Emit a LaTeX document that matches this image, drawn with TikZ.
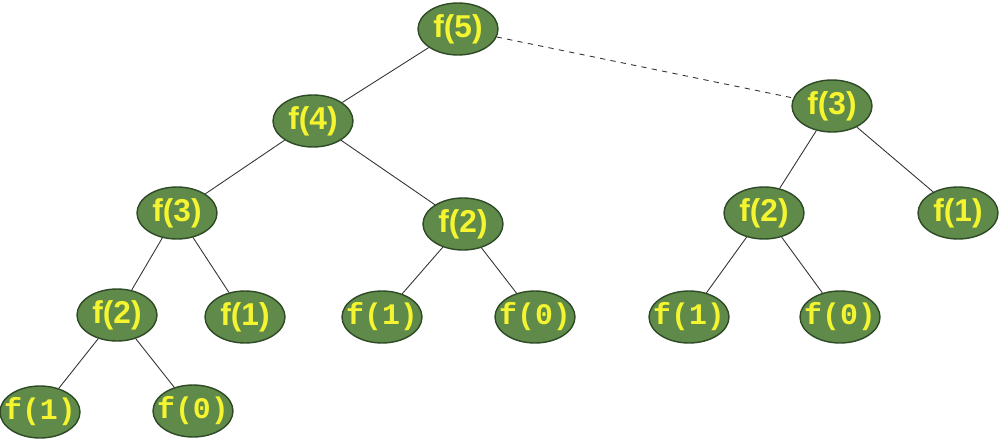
\documentclass[tikz,border=0pt]{standalone}
\usepackage{fontspec}
\setsansfont{Liberation Sans}
\setmonofont{Liberation Mono}
\usetikzlibrary{shapes.geometric}
\definecolor{callgreen}{HTML}{5F8A4A}
\definecolor{callrim}{HTML}{2E4A26}
\definecolor{callyellow}{HTML}{F4F430}
\tikzset{
  call/.style={ellipse,draw=callrim,fill=callgreen,line width=0.8pt,minimum width=1.6cm,minimum height=1.04cm,inner sep=0pt,text=callyellow,
    font=\sffamily\bfseries\fontsize{18}{22}\selectfont,
    execute at begin node={\hbox to 0pt\bgroup\hss},execute at end node={\hss\egroup}},
  leaf/.style={call,font=\ttfamily\bfseries\fontsize{17}{20}\selectfont},
  edge/.style={draw=black!80,line width=0.5pt}
}
\begin{document}
\begin{tikzpicture}[x=0.02cm,y=0.02cm]
\useasboundingbox[fill=white] (0,0) rectangle (1000,440);
% level 0 and 1
\node[call] (f5) at (458,411){f(5)};
\node[call] (f4) at (313,319){f(4)};
\node[call] (f3r) at (832,334){f(3)};
% level 2
\node[call] (f3l) at (177,227){f(3)};
\node[call] (f2m) at (463,216){f(2)};
\node[call] (f2r) at (764,227){f(2)};
\node[call] (f1r) at (958,227){f(1)};
% level 3
\node[call] (f2l) at (117,125){f(2)};
\node[call] (f1a) at (245,123){f(1)};
\node[leaf] (f1b) at (382,123){f(1)};
\node[leaf] (f0a) at (535,123){f(0)};
\node[leaf] (f1c) at (689,123){f(1)};
\node[leaf] (f0b) at (840,123){f(0)};
% level 4
\node[leaf] (f1d) at (40,28){f(1)};
\node[leaf] (f0c) at (193,29){f(0)};
% calls
\draw[edge] (f5)--(f4); \draw[edge,dashed] (f5)--(f3r);
\draw[edge] (f4)--(f3l); \draw[edge] (f4)--(f2m);
\draw[edge] (f3r)--(f2r); \draw[edge] (f3r)--(f1r);
\draw[edge] (f3l)--(f2l); \draw[edge] (f3l)--(f1a);
\draw[edge] (f2m)--(f1b); \draw[edge] (f2m)--(f0a);
\draw[edge] (f2r)--(f1c); \draw[edge] (f2r)--(f0b);
\draw[edge] (f2l)--(f1d); \draw[edge] (f2l)--(f0c);
\end{tikzpicture}
\end{document}
